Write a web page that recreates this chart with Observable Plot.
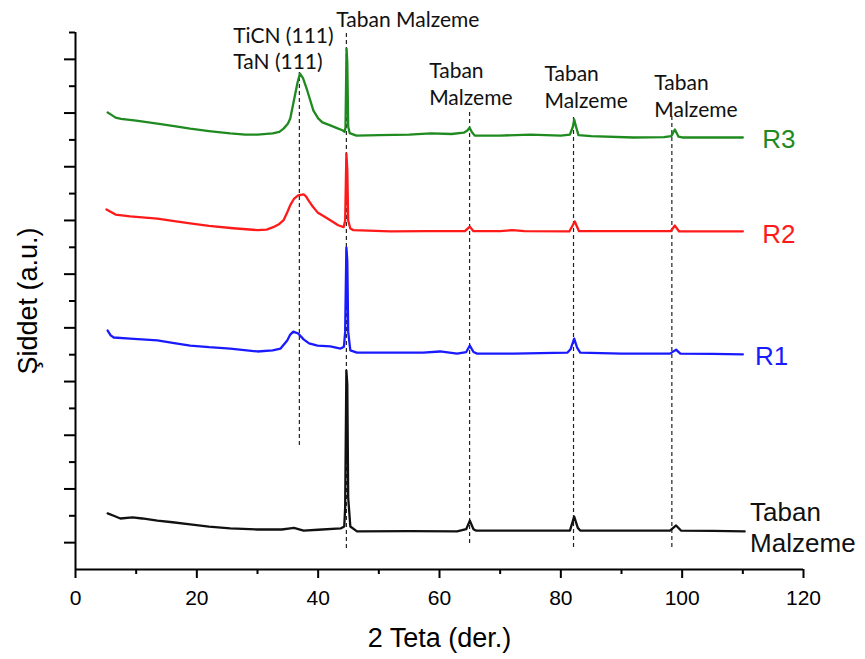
<!DOCTYPE html>
<html>
<head>
<meta charset="utf-8">
<script src="https://cdn.jsdelivr.net/npm/d3@7"></script>
<script src="https://cdn.jsdelivr.net/npm/@observablehq/plot@0.6"></script>
<style>
  html, body { margin: 0; padding: 0; background: #fff; }
</style>
</head>
<body>
<div id="chart"></div>
<script>
// XRD patterns: [2θ (degrees), intensity (a.u., stacked offset)]
const r3 = [[5.3,17.02],[5.8,16.95],[6.6,16.83],[7.5,16.78],[10,16.72],[13.5,16.61],[16,16.52],[18.9,16.42],[22,16.33],[25.5,16.24],[28,16.2],[30,16.2],[32.5,16.24],[33.6,16.3],[34.3,16.42],[35,16.6],[35.4,16.8],[36.1,17.58],[36.6,18.14],[37.0,18.47],[37.5,18.3],[38.2,17.84],[39.2,17.1],[40,16.8],[40.7,16.65],[42,16.54],[43,16.45],[44,16.36],[44.35,16.3],[44.5,16.45],[44.68,19.4],[44.8,18.9],[44.95,16.5],[45.2,16.25],[46.3,16.16],[50,16.18],[55,16.2],[58.6,16.24],[62,16.22],[64,16.27],[64.6,16.35],[64.95,16.46],[65.3,16.3],[65.8,16.16],[70,16.16],[75,16.2],[80,16.16],[81.5,16.2],[82.0,16.5],[82.2,16.76],[82.5,16.5],[82.9,16.18],[85,16.14],[91.9,16.09],[97,16.1],[98.2,16.14],[98.8,16.39],[99.4,16.12],[100,16.09],[105,16.09],[110,16.09]];
const r2 = [[5.1,13.41],[6,13.3],[6.6,13.22],[9,13.15],[13.5,13.07],[16,12.98],[18.9,12.89],[22,12.8],[26,12.71],[30,12.64],[31.5,12.66],[32.6,12.75],[33.6,12.87],[34.3,13.01],[35,13.35],[35.4,13.57],[36.0,13.8],[36.7,13.93],[37.6,13.97],[38.0,13.9],[38.4,13.75],[39.0,13.55],[39.9,13.3],[41,13.15],[42,13.01],[43.3,12.82],[44.2,12.75],[44.45,13.0],[44.65,15.49],[44.8,14.9],[44.95,13.0],[45.3,12.7],[45.8,12.64],[51.9,12.59],[58,12.6],[64.2,12.6],[65.0,12.77],[65.6,12.6],[70,12.6],[72,12.64],[74,12.6],[81.4,12.59],[82.3,12.96],[83,12.6],[90,12.6],[98.1,12.6],[98.8,12.81],[99.5,12.59],[110,12.59]];
const r1 = [[5.3,8.9],[5.8,8.72],[6.3,8.64],[9,8.6],[13.5,8.53],[16,8.44],[18.9,8.34],[22,8.28],[25.5,8.23],[30,8.12],[32.5,8.16],[33.8,8.23],[34.9,8.53],[35.4,8.75],[35.9,8.86],[36.7,8.79],[37.6,8.57],[38.5,8.42],[39.9,8.34],[42,8.31],[43.7,8.23],[44.25,8.3],[44.45,8.85],[44.65,11.99],[44.8,11.5],[44.95,8.85],[45.3,8.16],[46.4,8.08],[50,8.08],[57.3,8.08],[60.1,8.12],[62.9,8.04],[64.4,8.1],[65.0,8.34],[65.6,8.1],[66.2,8.04],[72.2,8.04],[81.1,8.08],[81.6,8.2],[82.2,8.6],[82.7,8.25],[83.2,8.08],[90,8.04],[98.0,8.04],[99.0,8.19],[99.7,8.04],[105,8.03],[110,8.01]];
const base = [[5.3,2.09],[6.3,2.0],[7.4,1.9],[9.4,1.94],[11,1.9],[13.5,1.82],[16,1.76],[18.9,1.68],[22,1.6],[25.5,1.53],[30,1.49],[34,1.49],[35.4,1.53],[36,1.55],[37.6,1.45],[40,1.48],[43.7,1.53],[44.3,1.6],[44.45,2.31],[44.65,7.41],[44.8,6.9],[44.95,2.68],[45.3,1.6],[46.4,1.42],[55,1.43],[62.9,1.42],[64.4,1.5],[65.0,1.82],[65.6,1.5],[66,1.45],[75,1.45],[81.5,1.45],[82.2,1.97],[82.8,1.55],[83.2,1.45],[90,1.45],[98,1.45],[99.0,1.64],[99.8,1.45],[105,1.44],[110.3,1.42]];

// Reference lines through the diffraction peaks
const guideTheta = [36.9, 44.65, 64.96, 82.09, 98.3];
const guideTop = [18.51, 19.96, 17.02, 16.83, 16.87];
const guideBottom = [4.62, 0.78, 0.97, 0.82, 0.82];

// Axis ticks
const xMajor = [0, 20, 40, 60, 80, 100, 120];
const xMinor = [10, 30, 50, 70, 90, 110];
const yMajor = [1, 3, 5, 7, 9, 11, 13, 15, 17, 19];
const yMinor = [2, 4, 6, 8, 10, 12, 14, 16, 18, 20];

// Series labels at the right end of each pattern
const seriesNames = ["R3", "R2", "R1", "Taban\nMalzeme"];
const seriesColors = ["#1f8a1f", "#ff1a1a", "#1a1aff", "#111111"];
const seriesLabelTheta = [113.2, 113.2, 112.0, 111.2];
const seriesLabelY = [16.5, 12.96, 8.42, 2.64];

// Peak annotations
const peakNotes = ["TiCN (111)\nTaN (111)", "Taban Malzeme", "Taban\nMalzeme", "Taban\nMalzeme", "Taban\nMalzeme"];
const peakNoteTheta = [26.0, 43.0, 58.3, 77.3, 95.4];
const peakNoteY = [20.26, 20.93, 19.03, 18.92, 18.58];

const patterns = [r3, r2, r1, base];
const toRows = (pts) => pts.map(([theta, intensity]) => ({theta, intensity}));

const guides = guideTheta.map((t, i) => ({theta: t, top: guideTop[i], bottom: guideBottom[i]}));
const seriesLabels = seriesNames.map((n, i) => ({name: n, color: seriesColors[i], theta: seriesLabelTheta[i], y: seriesLabelY[i]}));
const notes = peakNotes.map((n, i) => ({text: n, theta: peakNoteTheta[i], y: peakNoteY[i], lh: i === 0 ? 1.2 : 1.3}));

const sans = "'Liberation Sans', Arial, sans-serif";
const noteFont = "Lato, 'Open Sans', sans-serif";

const chart = Plot.plot({
  width: 865,
  height: 659,
  marginLeft: 75,
  marginRight: 62,
  marginTop: 32,
  marginBottom: 90,
  style: {fontFamily: sans, background: "#fff", overflow: "visible", color: "#000"},
  x: {domain: [0, 120]},
  y: {domain: [0, 20]},
  marks: [
    Plot.ruleX(guides, {x: "theta", y1: "bottom", y2: "top", stroke: "#222", strokeWidth: 1.2, strokeDasharray: "4,3"}),
    ...patterns.map((p, i) => Plot.line(toRows(p), {x: "theta", y: "intensity", stroke: seriesColors[i], strokeWidth: 2.3, curve: "linear"})),
    Plot.axisX({ticks: xMajor, tickSize: 9, tickPadding: 12, fontSize: 21, strokeWidth: 2, label: null, tickFormat: d => String(d)}),
    Plot.axisX({ticks: xMinor, tickSize: 5, text: null, strokeWidth: 2, label: null}),
    Plot.axisY({ticks: yMajor, tickSize: 11, text: null, strokeWidth: 2, label: null}),
    Plot.axisY({ticks: yMinor, tickSize: 6, text: null, strokeWidth: 2, label: null}),
    Plot.ruleX([0], {stroke: "#000", strokeWidth: 2}),
    Plot.ruleY([0], {stroke: "#000", strokeWidth: 2}),
    Plot.text(["2 Teta (der.)"], {frameAnchor: "bottom", dy: 58, lineAnchor: "top", textAnchor: "middle", fontSize: 27, fill: "#000"}),
    Plot.text(["Şiddet (a.u.)"], {frameAnchor: "left", rotate: -90, dx: -47, textAnchor: "middle", lineAnchor: "middle", fontSize: 27, fill: "#000"}),
    Plot.text(seriesLabels, {x: "theta", y: "y", text: "name", fill: "color", textAnchor: "start", lineAnchor: "top", fontSize: 26, lineHeight: 1.19}),
    ...notes.map(n => Plot.text([n], {x: "theta", y: "y", text: "text", textAnchor: "start", lineAnchor: "top", fontSize: 21, lineHeight: n.lh, fontFamily: noteFont, fill: "#111"}))
  ]
});

document.getElementById("chart").appendChild(chart);
</script>
</body>
</html>
